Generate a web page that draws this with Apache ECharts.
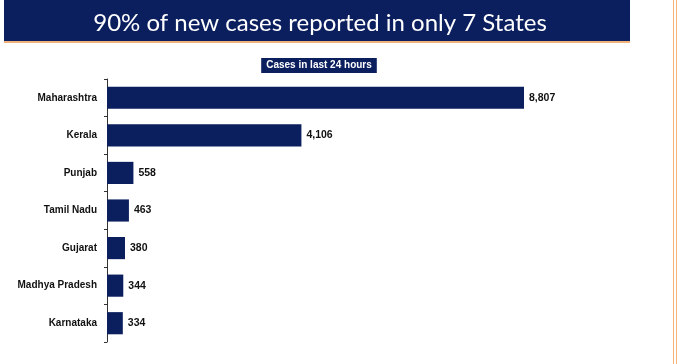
<!DOCTYPE html>
<html><head><meta charset="utf-8">
<script src="https://cdn.jsdelivr.net/npm/echarts@6/dist/echarts.min.js"></script>
<style>html,body{margin:0;padding:0;background:#fff}#c{width:685px;height:364px}</style>
</head><body><div id="c"></div>
<script>
const categories = ["Maharashtra","Kerala","Punjab","Tamil Nadu","Gujarat","Madhya Pradesh","Karnataka"];
const cases = [8807,4106,558,463,380,344,334];
const titleText = "90% of new cases reported in only 7 States";
const subtitleText = "Cases in last 24 hours";

const chart = echarts.init(document.getElementById('c'), null, {renderer:'canvas'});
chart.setOption({
  animation:false,
  backgroundColor:'#ffffff',
  title:[{
    text:titleText, left:315, top:6, textAlign:'center',
    textStyle:{color:'#ffffff', fontFamily:'Lato', fontWeight:'normal', fontSize:24}
  },{
    text:subtitleText, left:314, top:58, textAlign:'center',
    backgroundColor:'#0b1f5e', padding:[2,5,2,5],
    textStyle:{color:'#ffffff', fontFamily:'Liberation Sans', fontWeight:'bold', fontSize:10, lineHeight:11}
  }],
  graphic:[
    {type:'rect', left:4, top:0, z:-1, shape:{width:626, height:41}, style:{fill:'#0b1f5e'}},
    {type:'rect', left:4, top:41, z:-1, shape:{width:626, height:2}, style:{fill:'#f0b27a'}},
    {type:'rect', left:673, top:0, shape:{width:1, height:364}, style:{fill:'#f4b678'}},
    {type:'rect', left:676, top:0, shape:{width:1, height:364}, style:{fill:'#f4b678'}}
  ],
  grid:{left:107, top:79, width:473.5, height:263, containLabel:false},
  xAxis:{type:'value', min:0, max:10000, show:false},
  yAxis:{type:'category', data:categories, inverse:true,
    axisLine:{show:true, lineStyle:{color:'#333', width:1}},
    axisTick:{show:true, length:3, lineStyle:{color:'#333'}},
    axisLabel:{color:'#111', fontFamily:'Liberation Sans', fontWeight:'bold', fontSize:10, margin:10}
  },
  series:[{
    type:'bar', data:cases, barCategoryGap:'41%',
    itemStyle:{color:'#0b1f5e'},
    label:{show:true, position:'right', distance:5, color:'#111', fontFamily:'Liberation Sans', fontWeight:'bold', fontSize:10.5,
      formatter:p=>p.value.toLocaleString('en-US')}
  }]
});
</script></body></html>
